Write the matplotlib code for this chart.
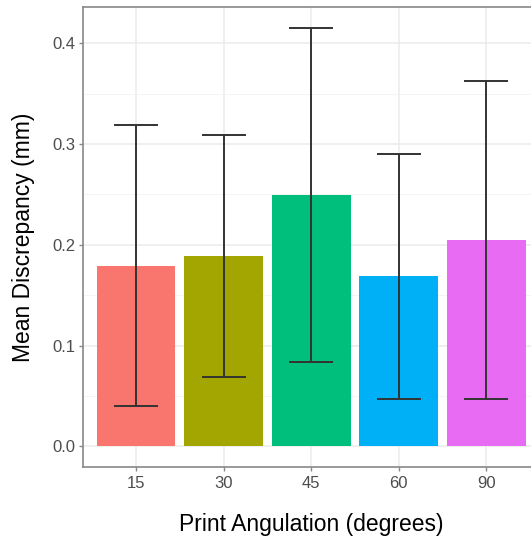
import matplotlib.pyplot as plt
from matplotlib.ticker import MultipleLocator

# data
angles = ["15", "30", "45", "60", "90"]
means = [0.179, 0.189, 0.249, 0.169, 0.205]
err_low = [0.040, 0.069, 0.084, 0.047, 0.047]
err_high = [0.319, 0.309, 0.415, 0.290, 0.363]
colors = ["#F8766D", "#A3A500", "#00BF7D", "#00B0F6", "#E76BF3"]

plt.rcParams["font.family"] = ["Liberation Sans", "DejaVu Sans"]

fig = plt.figure(figsize=(5.31, 5.36), dpi=100)
# the panel runs past the right edge of the picture, as in the reference
ax = fig.add_axes([0.157, 0.128, 0.858, 0.859])

x = list(range(1, len(angles) + 1))
ax.bar(x, means, width=0.9, color=colors, zorder=2)

lower = [m - lo for m, lo in zip(means, err_low)]
upper = [hi - m for m, hi in zip(means, err_high)]
ax.errorbar(x, means, yerr=[lower, upper], fmt="none", ecolor="#333333",
            elinewidth=1.4, capsize=16, capthick=1.4, zorder=3)

ax.set_xlim(0.4, 5.6)
ax.set_ylim(-0.0208, 0.436)
ax.set_xticks(x)
ax.set_xticklabels(angles)
ax.yaxis.set_minor_locator(MultipleLocator(0.05))
ax.set_yticks([0.0, 0.1, 0.2, 0.3, 0.4])
ax.set_yticklabels(["0.0", "0.1", "0.2", "0.3", "0.4"])

ax.grid(which="major", color="#EBEBEB", linewidth=1.1, zorder=0)
ax.grid(which="minor", axis="y", color="#F2F2F2", linewidth=0.6, zorder=0)
ax.set_axisbelow(True)

for side in ["left", "bottom", "top", "right"]:
    ax.spines[side].set_color("#888888")
    ax.spines[side].set_linewidth(1.2)

ax.tick_params(which="major", length=3, width=1, color="#888888",
               labelsize=12, labelcolor="#4D4D4D", pad=3)
ax.tick_params(which="minor", length=0)

ax.set_xlabel("Print Angulation (degrees)", fontsize=16.5, labelpad=16)
ax.set_ylabel("Mean Discrepancy (mm)", fontsize=16.5, labelpad=12)

fig.savefig("out.png", dpi=100)
